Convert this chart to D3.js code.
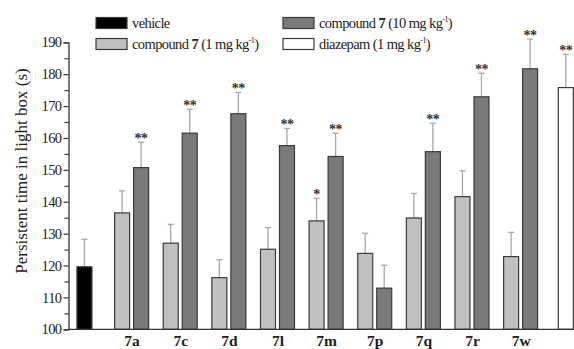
<!DOCTYPE html>
<html>
<head>
<meta charset="utf-8">
<script src="https://cdn.jsdelivr.net/npm/d3@7"></script>
<style>
  html, body { margin: 0; padding: 0; background: #fff; }
  svg { display: block; font-family: "Liberation Serif", "Times New Roman", serif; }
</style>
</head>
<body>
<svg id="chart" width="574" height="349"></svg>
<script>
// ---- data ----
const compounds = ["7a", "7c", "7d", "7l", "7m", "7p", "7q", "7r", "7w"];
const lowDose = [136.5, 127.0, 116.2, 125.1, 134.0, 123.8, 134.9, 141.6, 122.8];
const lowDoseErr = [6.9, 5.9, 5.6, 6.8, 7.1, 6.3, 7.7, 8.1, 7.6];
const lowDoseSig = ["", "", "", "", "*", "", "", "", ""];
const highDose = [150.7, 161.5, 167.6, 157.6, 154.2, 112.9, 155.7, 172.9, 181.7];
const highDoseErr = [8.0, 7.5, 6.7, 5.4, 7.3, 7.2, 8.9, 7.4, 9.3];
const highDoseSig = ["**", "**", "**", "**", "**", "", "**", "**", "**"];
const vehicleValue = 119.6, vehicleErr = 8.6;
const diazepamValue = 175.8, diazepamErr = 10.4, diazepamSig = "**";
const yTicks = [100, 110, 120, 130, 140, 150, 160, 170, 180, 190];
const yMinorTicks = [105, 115, 125, 135, 145, 155, 165, 175, 185];

// ---- layout ----
const svg = d3.select("#chart");
const axisX = 68.5, baseY = 329.3, topY = 42.3;
const y = d3.scaleLinear().domain([100, 190]).range([baseY, topY]);
const x = d3.scalePoint().domain(compounds).range([131.6, 520.6]);
const step = x.step();
const vehicleX = x(compounds[0]) - step * 0.97;
const diazepamX = x(compounds[compounds.length - 1]) + step * 0.93;
const sub = d3.scaleBand().domain(["low", "high"]).range([-17, 17]).paddingInner(4 / 19);
const barW = 15;

const colors = { vehicle: "#000000", low: "#c0c0c0", high: "#7a7a7a", diazepam: "#ffffff" };
const strokeCol = "#3a3a3a";
const errCol = "#a8a8a8";

// bars data
const bars = [];
bars.push({ cx: vehicleX, v: vehicleValue, e: vehicleErr, fill: colors.vehicle, sig: "" });
compounds.forEach((c, i) => {
  bars.push({ cx: x(c) + sub("low") + sub.bandwidth() / 2, v: lowDose[i], e: lowDoseErr[i], fill: colors.low, sig: lowDoseSig[i] });
  bars.push({ cx: x(c) + sub("high") + sub.bandwidth() / 2, v: highDose[i], e: highDoseErr[i], fill: colors.high, sig: highDoseSig[i] });
});
bars.push({ cx: diazepamX, v: diazepamValue, e: diazepamErr, fill: colors.diazepam, sig: diazepamSig });

const g = svg.append("g");

// error bars (behind bars)
const eb = g.append("g");
bars.forEach(b => {
  eb.append("line").attr("x1", b.cx).attr("x2", b.cx)
    .attr("y1", y(b.v)).attr("y2", y(b.v + b.e))
    .attr("stroke", errCol).attr("stroke-width", 1.3);
  eb.append("line").attr("x1", b.cx - 3).attr("x2", b.cx + 3)
    .attr("y1", y(b.v + b.e)).attr("y2", y(b.v + b.e))
    .attr("stroke", errCol).attr("stroke-width", 1.3);
});

g.append("g").selectAll("rect").data(bars).join("rect")
  .attr("x", d => d.cx - barW / 2)
  .attr("width", barW)
  .attr("y", d => y(d.v))
  .attr("height", d => y(100) - y(d.v))
  .attr("fill", d => d.fill)
  .attr("stroke", strokeCol)
  .attr("stroke-width", 1.2);

// significance marks
g.append("g").selectAll("text").data(bars.filter(b => b.sig)).join("text")
  .attr("x", d => d.cx)
  .attr("y", d => y(d.v + d.e) + 1)
  .attr("text-anchor", "middle")
  .attr("font-size", 14)
  .attr("font-weight", "bold")
  .attr("fill", "#333")
  .attr("letter-spacing", "-0.5px")
  .text(d => d.sig);

// y axis
const yAxis = d3.axisLeft(y).tickValues(yTicks).tickSize(5).tickPadding(2).tickFormat(d3.format("d"));
const ya = svg.append("g").attr("transform", `translate(${axisX},0)`).call(yAxis);
ya.select(".domain").attr("stroke", "#333").attr("stroke-width", 1.3);
ya.selectAll(".tick line").attr("stroke", "#333").attr("stroke-width", 1.2);
ya.selectAll(".tick text").attr("font-size", 14.5).attr("fill", "#222")
  .attr("font-family", "Liberation Serif, serif").attr("letter-spacing", "-0.6px");
const yMinor = d3.axisLeft(y).tickValues(yMinorTicks).tickSize(4).tickFormat("");
const ym = svg.append("g").attr("transform", `translate(${axisX},0)`).call(yMinor);
ym.select(".domain").remove();
ym.selectAll(".tick line").attr("stroke", "#333").attr("stroke-width", 1.2);

// x axis
const xAxis = d3.axisBottom(x).tickValues(compounds).tickSize(0).tickPadding(5.5);
const xa = svg.append("g").attr("transform", `translate(0,${baseY})`).call(xAxis);
xa.select(".domain").attr("d", `M${axisX},0H574`).attr("stroke", "#333").attr("stroke-width", 1.3);
xa.selectAll(".tick text").attr("font-size", 15.5).attr("font-weight", "bold").attr("fill", "#222")
  .attr("font-family", "Liberation Serif, serif");

// y title
svg.append("text")
  .attr("transform", "translate(27,171) rotate(-90)")
  .attr("text-anchor", "middle")
  .attr("font-size", 17)
  .attr("fill", "#222")
  .text("Persistent time in light box (s)");

// legend
const legendItems = [
  { key: "vehicle", col: 0, row: 0, dose: null },
  { key: "low", col: 0, row: 1, dose: "1" },
  { key: "high", col: 1, row: 0, dose: "10" },
  { key: "diazepam", col: 1, row: 1, dose: "1" }
];
const legX = [96, 283], legY = [17.5, 38.5];
const leg = svg.append("g");
legendItems.forEach(it => {
  const lx = legX[it.col], ly = legY[it.row];
  leg.append("rect").attr("x", lx).attr("y", ly).attr("width", 31).attr("height", 11)
    .attr("fill", colors[it.key]).attr("stroke", strokeCol).attr("stroke-width", 1.2);
  const t = leg.append("text").attr("x", lx + 36).attr("y", ly + 10)
    .attr("font-size", 14.5).attr("fill", "#222").attr("letter-spacing", "-0.6px");
  if (it.key === "vehicle") {
    t.text("vehicle");
  } else if (it.key === "diazepam") {
    t.append("tspan").text("diazepam (1 mg kg");
    t.append("tspan").attr("font-size", 8).attr("dy", -6).text("-1");
    t.append("tspan").attr("dy", 6).text(")");
  } else {
    t.append("tspan").text("compound ");
    t.append("tspan").attr("font-weight", "bold").text("7");
    t.append("tspan").text(` (${it.dose} mg kg`);
    t.append("tspan").attr("font-size", 8).attr("dy", -6).text("-1");
    t.append("tspan").attr("dy", 6).text(")");
  }
});
</script>
</body>
</html>
